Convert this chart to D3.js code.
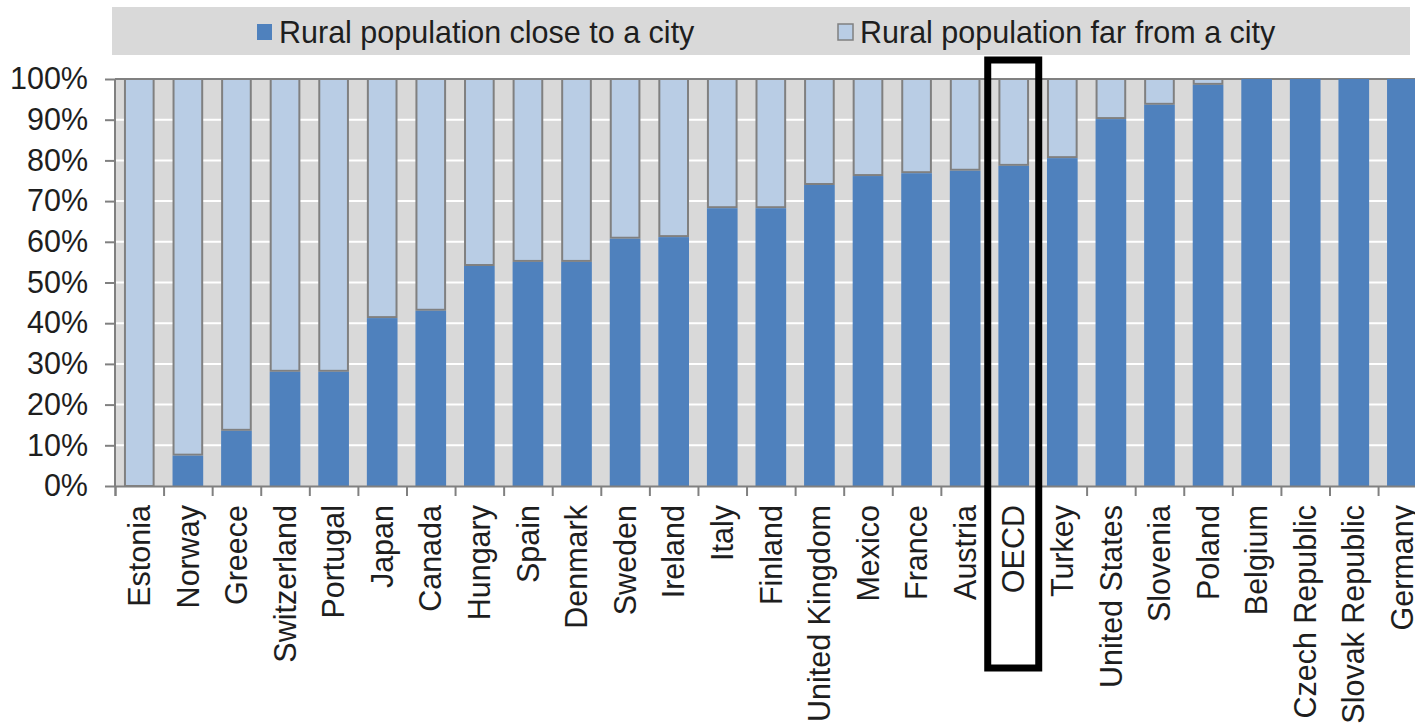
<!DOCTYPE html>
<html>
<head>
<meta charset="utf-8">
<script src="https://cdn.jsdelivr.net/npm/d3@7"></script>
<style>
  body { margin: 0; background: #fff; }
  text { font-family: "Liberation Sans", Arial, sans-serif; fill: #1e1e1e; }
</style>
</head>
<body>
<div id="chart"></div>
<script>
const countries = ["Estonia", "Norway", "Greece", "Switzerland", "Portugal", "Japan", "Canada",
  "Hungary", "Spain", "Denmark", "Sweden", "Ireland", "Italy", "Finland", "United Kingdom",
  "Mexico", "France", "Austria", "OECD", "Turkey", "United States", "Slovenia", "Poland",
  "Belgium", "Czech Republic", "Slovak Republic", "Germany"]
// share of rural population close to a city (the rest is far from a city)
const closeShare = [0, 0.077, 0.138, 0.283, 0.283, 0.415, 0.433, 0.543, 0.553, 0.553, 0.61,
  0.614, 0.685, 0.685, 0.742, 0.764, 0.771, 0.777, 0.789, 0.808, 0.904, 0.939, 0.988,
  1, 1, 1, 1]
const yTicks = [0, 0.1, 0.2, 0.3, 0.4, 0.5, 0.6, 0.7, 0.8, 0.9, 1]
const seriesNames = ["Rural population close to a city", "Rural population far from a city"]
const highlight = "OECD"

const width = 1415, height = 727
const margin = { top: 79, bottom: 241, left: 115 }
const fontSize = 30.5

const colors = { close: "#4f81bd", far: "#b9cde5", back: "#d9d9d9", edge: "#808080" }

const data = countries.map((c, i) => ({ name: c, close: closeShare[i], far: 1 - closeShare[i] }))

const step = 48.58
const x = d3.scaleBand()
  .domain(countries)
  .range([margin.left, margin.left + step * countries.length])
  .paddingInner(0.41)
  .paddingOuter(0.205)

const xEdges = d3.scaleLinear()
  .domain([0, countries.length])
  .range(x.range())

const y = d3.scaleLinear()
  .domain([0, 1])
  .range([height - margin.bottom, margin.top])

const svg = d3.select("#chart")
  .append("svg")
  .attr("width", width)
  .attr("height", height)

// legend strip
const legend = svg.append("g")
legend.append("rect")
  .attr("x", 112).attr("y", 7)
  .attr("width", 1298).attr("height", 48)
  .attr("fill", colors.back)

const legendItems = [
  { label: seriesNames[0], fill: colors.close, stroke: "none", x: 257 },
  { label: seriesNames[1], fill: colors.far, stroke: colors.edge, x: 838 }
]
legendItems.forEach(it => {
  legend.append("rect")
    .attr("x", it.x).attr("y", 24)
    .attr("width", 15).attr("height", 16)
    .attr("fill", it.fill)
    .attr("stroke", it.stroke)
    .attr("stroke-width", 1.5)
  legend.append("text")
    .attr("x", it.x + 22).attr("y", 32)
    .attr("dy", "0.35em")
    .attr("font-size", fontSize)
    .text(it.label)
})

// plot background
svg.append("rect")
  .attr("x", margin.left)
  .attr("y", y(1))
  .attr("width", width - margin.left)
  .attr("height", y(0) - y(1))
  .attr("fill", colors.back)

// white gridlines
svg.append("g")
  .selectAll("line")
  .data(yTicks.slice(1, -1))
  .join("line")
  .attr("x1", margin.left).attr("x2", width)
  .attr("y1", d => y(d)).attr("y2", d => y(d))
  .attr("stroke", "#fff")
  .attr("stroke-width", 2)

// top border of plot area
svg.append("line")
  .attr("x1", margin.left).attr("x2", width)
  .attr("y1", y(1)).attr("y2", y(1))
  .attr("stroke", colors.edge)
  .attr("stroke-width", 2)

// far from a city (stacked on top)
svg.append("g")
  .selectAll("rect")
  .data(data.filter(d => d.far > 0.001))
  .join("rect")
  .attr("x", d => x(d.name))
  .attr("y", d => y(1))
  .attr("width", x.bandwidth())
  .attr("height", d => y(d.close) - y(1))
  .attr("fill", colors.far)
  .attr("stroke", colors.edge)
  .attr("stroke-width", 2)

// close to a city
svg.append("g")
  .selectAll("rect")
  .data(data.filter(d => d.close > 0))
  .join("rect")
  .attr("x", d => x(d.name) - 1)
  .attr("y", d => y(d.close) + (d.far > 0.001 ? 1 : 0))
  .attr("width", x.bandwidth() + 2)
  .attr("height", d => y(0) - y(d.close) - (d.far > 0.001 ? 1 : 0))
  .attr("fill", colors.close)

// y axis
svg.append("g")
  .attr("transform", `translate(${margin.left},0)`)
  .call(d3.axisLeft(y).tickValues(yTicks).tickFormat(d3.format(".0%")).tickSize(10).tickPadding(17))
  .call(g => g.selectAll("line, path").attr("stroke", colors.edge).attr("stroke-width", 2))
  .call(g => g.select(".domain").attr("d", `M0,${y(1)}V${y(0)}`))
  .call(g => g.selectAll("text")
    .attr("font-size", fontSize)
    .attr("font-family", "'Liberation Sans', Arial, sans-serif")
    .attr("fill", "#1e1e1e"))

// x axis: ticks between categories
svg.append("g")
  .attr("transform", `translate(0,${y(0)})`)
  .call(d3.axisBottom(xEdges).tickValues(d3.range(countries.length + 1)).tickFormat("").tickSize(10))
  .call(g => g.selectAll("line, path").attr("stroke", colors.edge).attr("stroke-width", 2))

// category labels
svg.append("g")
  .selectAll("text")
  .data(countries)
  .join("text")
  .attr("transform", d => `translate(${x(d) + x.bandwidth() / 2},505) rotate(-90)`)
  .attr("text-anchor", "end")
  .attr("dy", "0.35em")
  .attr("font-size", fontSize)
  .text(d => d)

// highlight box round the OECD average
const hx = x(highlight) + x.bandwidth() / 2
svg.append("rect")
  .attr("x", hx - 26)
  .attr("y", 60)
  .attr("width", 51)
  .attr("height", 608)
  .attr("fill", "none")
  .attr("stroke", "#000")
  .attr("stroke-width", 7)
</script>
</body>
</html>
